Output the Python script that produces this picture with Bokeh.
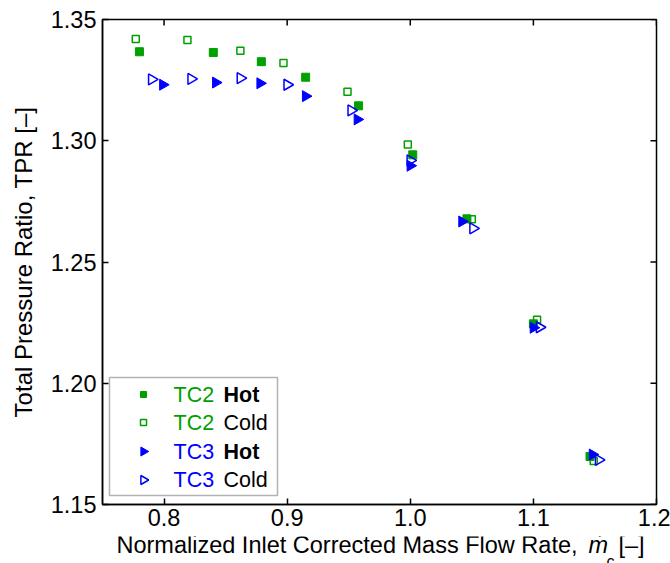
import numpy as np
from bokeh.plotting import figure
from bokeh.layouts import column
from bokeh.models import Range1d, FixedTicker, Label, BoxAnnotation
from bokeh.embed import file_html
from bokeh.resources import INLINE

# ---- data ----
x_ticks = [0.8, 0.9, 1.0, 1.1, 1.2]
x_tick_labels = ["0.8", "0.9", "1.0", "1.1", "1.2"]
y_ticks = [1.15, 1.20, 1.25, 1.30, 1.35]
y_tick_labels = ["1.15", "1.20", "1.25", "1.30", "1.35"]

tc2_hot_x = [0.780, 0.840, 0.879, 0.915, 0.958, 1.002, 1.046, 1.100, 1.146]
tc2_hot_y = [1.3367, 1.3364, 1.3326, 1.3262, 1.3144, 1.2942, 1.2678, 1.2245, 1.1698]
tc2_cold_x = [0.777, 0.819, 0.862, 0.897, 0.949, 0.998, 1.050, 1.103, 1.149]
tc2_cold_y = [1.3420, 1.3415, 1.3371, 1.3321, 1.3202, 1.2985, 1.2676, 1.2262, 1.1679]
tc3_hot_x = [0.799, 0.842, 0.878, 0.915, 0.957, 1.000, 1.042, 1.100, 1.148]
tc3_hot_y = [1.3231, 1.3240, 1.3237, 1.3184, 1.3088, 1.2897, 1.2667, 1.2229, 1.1706]
tc3_cold_x = [0.790, 0.822, 0.862, 0.900, 0.952, 1.000, 1.051, 1.105, 1.153]
tc3_cold_y = [1.3253, 1.3255, 1.3258, 1.3231, 1.3125, 1.2919, 1.2639, 1.2231, 1.1684]

series_names = ["TC2", "TC2", "TC3", "TC3"]
series_states = ["Hot", "Cold", "Hot", "Cold"]

x_label = "Normalized Inlet Corrected Mass Flow Rate,"
x_label_var = "ṁ"
x_label_sub = "c"
x_label_unit = "[–]"
y_label = "Total Pressure Ratio, TPR [–]"

GREEN = "#00A000"
BLUE = "#0000FF"
FONT = "Liberation Sans"
AX_FS = "23.5px"
LEG_FS = "21.5px"

X0, X1 = 0.75, 1.2
Y0, Y1 = 1.15, 1.35
W, H = 670, 563
MAIN_H = 536
FL, FR, FT, FB = 102, 656, 19, 504

def sx(px):
    return X0 + (px - FL) * (X1 - X0) / (FR - FL)

def sy(py):
    return Y1 - (py - FT) * (Y1 - Y0) / (FB - FT)

DX = (X1 - X0) / (FR - FL)
DY = (Y1 - Y0) / (FB - FT)

p = figure(width=W, height=MAIN_H, x_range=Range1d(X0, X1), y_range=Range1d(Y0, Y1),
           output_backend="svg", toolbar_location=None,
           min_border_left=FL, min_border_right=W - FR,
           min_border_top=FT, min_border_bottom=MAIN_H - FB)
p.xgrid.visible = False
p.ygrid.visible = False
p.outline_line_color = "black"
p.outline_line_width = 1.5
p.background_fill_color = "white"
p.border_fill_color = "white"

for ax, ticks, labels in ((p.xaxis[0], x_ticks, x_tick_labels), (p.yaxis[0], y_ticks, y_tick_labels)):
    ax.ticker = FixedTicker(ticks=ticks)
    ax.major_label_overrides = {t: l for t, l in zip(ticks, labels)}
    ax.minor_tick_line_color = None
    ax.major_tick_in = 6
    ax.major_tick_out = 0
    ax.major_tick_line_width = 1.5
    ax.axis_line_width = 1.5
    ax.axis_line_color = "black"
    ax.major_tick_line_color = "black"
    ax.major_label_text_font = FONT
    ax.major_label_text_font_size = AX_FS
    ax.major_label_text_color = "black"
p.xaxis[0].major_label_standoff = 4
p.yaxis[0].major_label_standoff = 6

p.yaxis[0].axis_label = y_label
p.yaxis[0].axis_label_text_font = FONT
p.yaxis[0].axis_label_text_font_size = "24px"
p.yaxis[0].axis_label_text_font_style = "normal"
p.yaxis[0].axis_label_text_color = "black"
p.yaxis[0].axis_label_standoff = 11

# mirrored inward ticks on top and right edges (box style)
nx, ny = len(x_ticks), len(y_ticks)
p.segment(x0=x_ticks, y0=[Y1] * nx, x1=x_ticks, y1=[Y1 - 6 * DY] * nx,
          line_color="black", line_width=1.5)
p.segment(x0=[X1] * ny, y0=y_ticks, x1=[X1 - 6 * DX] * ny, y1=y_ticks,
          line_color="black", line_width=1.5)

# data series
p.scatter(tc2_hot_x, tc2_hot_y, marker="square", size=8,
          fill_color=GREEN, line_color=GREEN)
p.scatter(tc2_cold_x, tc2_cold_y, marker="square", size=7,
          fill_color=None, line_color=GREEN, line_width=1.5)
p.scatter(tc3_hot_x, tc3_hot_y, marker="triangle", size=11, angle=-np.pi / 2,
          fill_color=BLUE, line_color=BLUE)
p.scatter(tc3_cold_x, tc3_cold_y, marker="triangle", size=11, angle=-np.pi / 2,
          fill_color=None, line_color=BLUE, line_width=1.5)

# ---- legend (drawn by hand so the triangles can point right) ----
p.add_layout(BoxAnnotation(left=sx(109), right=sx(277), top=sy(377), bottom=sy(495),
                           fill_color="white", fill_alpha=1.0, line_color="black",
                           line_width=1.5, level="underlay"))
row_py = [394, 422, 451, 479.5]
sw_x = sx(143)
p.scatter([sw_x], [sy(row_py[0])], marker="square", size=6, fill_color=GREEN, line_color=GREEN)
p.scatter([sw_x], [sy(row_py[1])], marker="square", size=6, fill_color=None,
          line_color=GREEN, line_width=1.5)
p.scatter([sw_x], [sy(row_py[2])], marker="triangle", size=9, angle=-np.pi / 2,
          fill_color=BLUE, line_color=BLUE)
p.scatter([sw_x], [sy(row_py[3])], marker="triangle", size=9, angle=-np.pi / 2,
          fill_color=None, line_color=BLUE, line_width=1.5)

name_colors = [GREEN, GREEN, BLUE, BLUE]
state_styles = ["bold", "normal", "bold", "normal"]
for name, col, state, style, py in zip(series_names, name_colors, series_states, state_styles, row_py):
    p.add_layout(Label(x=sx(173), y=sy(py), text=name, text_color=col,
                       text_font=FONT, text_font_size=LEG_FS, level="overlay",
                       text_baseline="middle", text_align="left"))
    p.add_layout(Label(x=sx(223), y=sy(py), text=state, text_color="black",
                       text_font=FONT, text_font_size=LEG_FS, text_font_style=style,
                       level="overlay", text_baseline="middle", text_align="left"))

# ---- x-axis label strip (pixel coordinates, frame aligned with the main frame) ----
s = figure(width=W, height=H - MAIN_H, x_range=Range1d(FL, FR), y_range=Range1d(H, MAIN_H),
           output_backend="svg", toolbar_location=None, title=None,
           x_axis_type=None, y_axis_type=None,
           min_border_left=FL, min_border_right=W - FR, min_border_top=0, min_border_bottom=0)
s.xgrid.visible = False
s.ygrid.visible = False
s.outline_line_color = None
s.background_fill_color = "white"
s.border_fill_color = "white"

base = 544.5
s.add_layout(Label(x=116, y=base, text=x_label, text_font=FONT, text_font_size=AX_FS,
                   text_baseline="alphabetic", text_align="left", text_color="black"))
s.add_layout(Label(x=588, y=base, text=x_label_var, text_font=FONT, text_font_size=AX_FS,
                   text_font_style="italic",
                   text_baseline="alphabetic", text_align="left", text_color="black"))
s.add_layout(Label(x=606, y=base + 16, text=x_label_sub, text_font=FONT, text_font_size="16px",
                   text_baseline="alphabetic", text_align="left", text_color="black"))
s.add_layout(Label(x=618, y=base, text=x_label_unit, text_font=FONT, text_font_size=AX_FS,
                   text_baseline="alphabetic", text_align="left", text_color="black"))

layout = column(p, s, spacing=0)
open("out.html", "w").write(file_html(layout, INLINE))
